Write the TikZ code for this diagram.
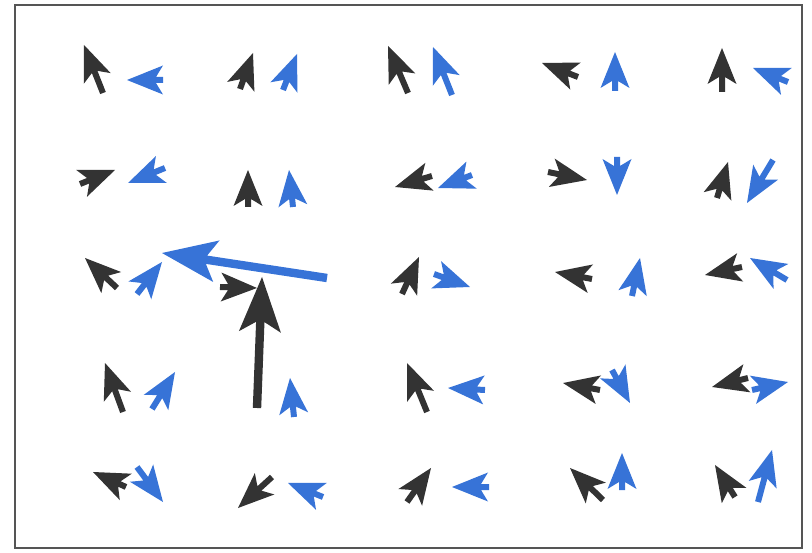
\documentclass[tikz,border=0pt]{standalone}
\usetikzlibrary{calc}
\definecolor{qdark}{RGB}{51,51,51}
\definecolor{qblue}{RGB}{55,115,215}
\definecolor{qframe}{RGB}{85,85,85}
% quiver arrow: #1 colour, #2 tail, #3 tip, #4 half shaft width, #5 head length, #6 head half width, #7 head axis length
\newcommand\qvgen[7]{%
  \fill[#1] ($(#2)!#4!90:(#3)$) -- ($($(#3)!#7!(#2)$)!#4!90:(#3)$)
    -- ($($(#3)!#5!(#2)$)!#6!90:(#3)$) -- (#3)
    -- ($($(#3)!#5!(#2)$)!#6!-90:(#3)$) -- ($($(#3)!#7!(#2)$)!#4!-90:(#3)$)
    -- ($(#2)!#4!-90:(#3)$) -- cycle;}
\newcommand\qv[3]{\qvgen{#1}{#2}{#3}{3pt}{36pt}{14.5pt}{29pt}}
\newcommand\qvbig[3]{\qvgen{#1}{#2}{#3}{4.2pt}{55pt}{21pt}{45pt}}
\begin{document}
\begin{tikzpicture}[x=1pt,y=-1pt]
\useasboundingbox (0,0) rectangle (812,553);
\draw[qframe,line width=2pt] (15,5) rectangle (802,548);
% row 1
\qv{qdark}{103,93}{84,45}
\qv{qblue}{163,80}{127,80}
\qv{qdark}{240,89}{253,53}
\qv{qblue}{283,90}{297,54}
\qv{qdark}{408,93}{388,46}
\qv{qblue}{452,95}{433,47}
\qv{qdark}{578,77}{542,63}
\qv{qblue}{615,91}{615,52}
\qv{qdark}{722,92}{722,48}
\qv{qblue}{788,82}{753,68}
% row 2
\qv{qdark}{80,184}{115,170}
\qv{qblue}{165,168}{128,183}
\qv{qdark}{248,207}{248,170}
\qv{qblue}{293,207}{289,170}
\qv{qdark}{432,176}{395,187}
\qv{qblue}{472,175}{438,188}
\qv{qdark}{548,172}{587,180}
\qv{qblue}{617,157}{617,195}
\qv{qdark}{717,198}{728,162}
\qv{qblue}{773,160}{747,203}
% row 3
\qv{qdark}{117,288}{85,258}
\qv{qblue}{137,294}{162,262}
\qv{qdark}{220,287}{257,288}
\qvbig{qdark}{257,408}{262,277}
\qvbig{qblue}{327,278}{162,253}
\qv{qdark}{402,294}{419,257}
\qv{qblue}{434,274}{470,287}
\qv{qdark}{592,279}{555,272}
\qv{qblue}{632,296}{640,258}
\qv{qdark}{742,267}{705,275}
\qv{qblue}{787,280}{750,258}
% row 4
\qv{qdark}{123,412}{105,363}
\qv{qblue}{152,409}{175,372}
\qv{qblue}{294,417}{290,378}
\qv{qdark}{427,412}{407,363}
\qv{qblue}{485,390}{448,388}
\qv{qdark}{600,390}{563,383}
\qv{qblue}{612,370}{630,403}
\qv{qdark}{748,378}{712,387}
\qv{qblue}{752,390}{788,382}
% row 5
\qv{qdark}{126,487}{93,472}
\qv{qblue}{137,467}{163,502}
\qv{qdark}{272,477}{238,508}
\qv{qblue}{323,497}{288,483}
\qv{qdark}{407,502}{431,468}
\qv{qblue}{489,487}{452,487}
\qv{qdark}{603,500}{570,468}
\qv{qblue}{622,490}{622,453}
\qv{qdark}{735,497}{715,465}
\qv{qblue}{758,502}{772,450}
\end{tikzpicture}
\end{document}
